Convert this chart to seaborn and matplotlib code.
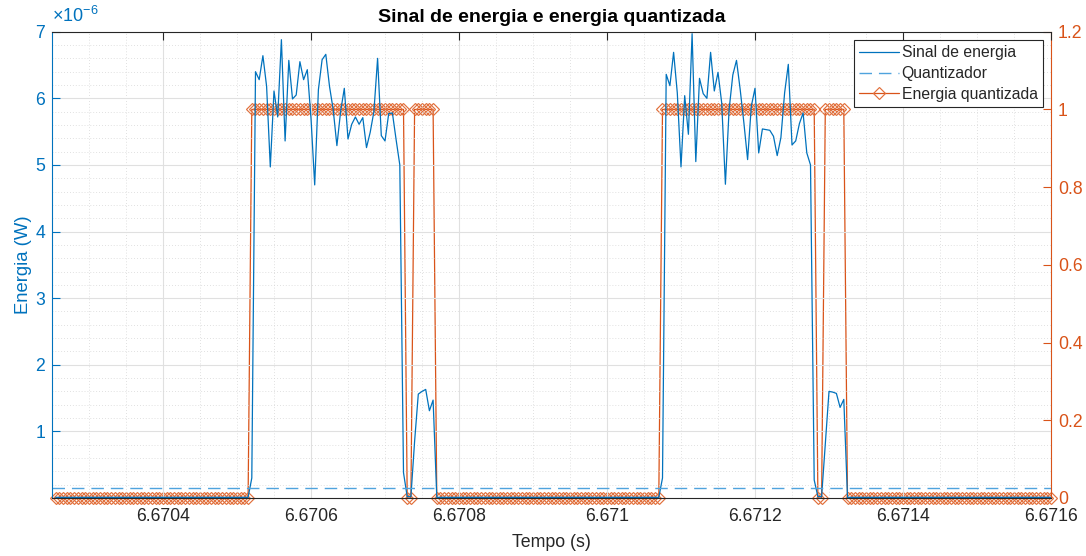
import numpy as np
import pandas as pd
import matplotlib
matplotlib.use("Agg")
import matplotlib.pyplot as plt
from matplotlib.ticker import FixedLocator, MultipleLocator, FuncFormatter
import seaborn as sns

# ---------------- data ----------------
t_start = 6.670255          # s, first sample
dt = 5e-6                   # s, sampling period
n_samples = 270
threshold = 0.15            # x1e-6 W, quantizer level
floor = 0.01                # x1e-6 W, idle energy

pulse1 = [6.40, 6.28, 6.64, 6.18, 4.97, 6.11, 5.72, 6.88, 5.36, 6.57,
          5.99, 6.05, 6.55, 6.28, 6.43, 5.70, 4.70, 6.13, 6.58, 6.66,
          6.18, 5.83, 5.29, 5.80, 6.15, 5.39, 5.61, 5.72, 5.61, 5.71,
          5.26, 5.49, 5.80, 6.60, 5.44, 5.36, 5.77, 5.78, 5.38]
tail1 = [5.00, 0.38, 0.02, 0.02, 0.85]
echo1 = [1.56, 1.60, 1.63, 1.31, 1.47]

pulse2 = [6.36, 6.19, 6.69, 6.08, 4.97, 6.04, 5.46, 6.97, 5.05, 6.30,
          6.07, 6.00, 6.69, 6.11, 6.39, 5.93, 4.71, 5.83, 6.35, 6.57,
          6.13, 5.63, 5.08, 5.88, 6.15, 5.18, 5.54, 5.53, 5.52, 5.43,
          5.14, 5.41, 6.08, 6.51, 5.30, 5.36, 5.62, 5.78, 5.18]
tail2 = [5.00, 0.27, 0.02, 0.02, 0.80]
echo2 = [1.60, 1.59, 1.57, 1.36, 1.48]

onset = [0.30]

energy_uW = ([floor] * 53 + onset + pulse1 + tail1 + echo1 +
             [floor] * 61 + onset + pulse2 + tail2 + echo2 +
             [floor] * 56)

x_ticks = [6.6704, 6.6706, 6.6708, 6.6710, 6.6712, 6.6714, 6.6716]
y_ticks_left = [1, 2, 3, 4, 5, 6, 7]
y_ticks_right = [0, 0.2, 0.4, 0.6, 0.8, 1.0, 1.2]

t = np.round(t_start + dt * np.arange(n_samples), 9)
energy = np.array(energy_uW)
quant = (energy > threshold).astype(int)
df = pd.DataFrame({"t": t, "energia": energy, "quant": quant})

# ---------------- style ----------------
BLUE = "#0072BD"
LBLUE = "#4FA3DD"
ORANGE = "#D95319"
MORANGE = "#E2703C"
DARK = "#262626"

sns.set_style("white")
plt.rcParams["font.family"] = ["Liberation Sans", "DejaVu Sans"]
plt.rcParams["mathtext.fontset"] = "custom"
plt.rcParams["mathtext.rm"] = "Liberation Sans"
plt.rcParams["mathtext.it"] = "Liberation Sans:italic"

W, H = 1086, 556
fig = plt.figure(figsize=(W / 100, H / 100), dpi=100)
ax = fig.add_axes([52 / W, 1 - 498 / H, (1051 - 52) / W, (498 - 31.7) / H])
ax2 = ax.twinx()

sns.lineplot(data=df, x="t", y="quant", ax=ax2, color=ORANGE, linewidth=0.9,
             marker="D", markersize=5.8, markerfacecolor="none",
             markeredgecolor=MORANGE, markeredgewidth=0.85, clip_on=False,
             estimator=None, legend=False)
sns.lineplot(data=df, x="t", y="energia", ax=ax, color=BLUE, linewidth=0.9,
             estimator=None, legend=False)
ax.axhline(threshold, color=LBLUE, linewidth=1.0, dashes=(9, 5))

ax.set_zorder(ax2.get_zorder() + 1)
ax.patch.set_visible(False)

# limits & ticks
ax.set_xlim(6.67025, 6.6716)
ax.set_ylim(0, 7)
ax2.set_ylim(0, 1.2)
ax.xaxis.set_major_locator(FixedLocator(x_ticks))
ax.xaxis.set_major_formatter(FuncFormatter(lambda v, p: "%.6g" % v))
ax.xaxis.set_minor_locator(MultipleLocator(0.00005))
ax.yaxis.set_major_locator(FixedLocator(y_ticks_left))
ax.yaxis.set_minor_locator(MultipleLocator(0.2))
ax2.yaxis.set_major_locator(FixedLocator(y_ticks_right))
ax2.yaxis.set_major_formatter(FuncFormatter(lambda v, p: "%g" % v))

ax.tick_params(axis="x", which="major", direction="in", length=6, width=0.8,
               colors=DARK, top=True, labelsize=12.7, pad=7)
ax.tick_params(axis="x", which="minor", length=0, top=True)
ax.tick_params(axis="y", which="major", direction="in", length=6, width=0.8,
               colors=BLUE, labelsize=12.7, pad=5, right=False)
ax.tick_params(axis="y", which="minor", length=0)
ax2.tick_params(axis="y", which="major", direction="in", length=6, width=0.8,
                colors=ORANGE, labelsize=12.7, pad=5)

# grid
ax.set_axisbelow(True)
ax.grid(which="major", color="#e0e0e0", linewidth=0.8)
ax.grid(which="minor", color="#d6d6d6", linewidth=0.6, linestyle=(0, (1, 2.5)))
ax2.grid(False)

# spines
for s in ["top", "bottom"]:
    ax.spines[s].set_color(DARK)
    ax.spines[s].set_linewidth(0.8)
ax.spines["left"].set_color(BLUE)
ax.spines["left"].set_linewidth(0.8)
ax.spines["right"].set_visible(False)
for s in ["top", "bottom", "left"]:
    ax2.spines[s].set_visible(False)
ax2.spines["right"].set_color(ORANGE)
ax2.spines["right"].set_linewidth(0.8)

# labels
ax.set_title("Sinal de energia e energia quantizada", fontsize=14,
             fontweight="bold", color="black", pad=7)
ax.set_xlabel("Tempo (s)", fontsize=12.8, color=DARK, labelpad=7)
ax.set_ylabel("Energia (W)", fontsize=13.3, color=BLUE, labelpad=2)
ax2.set_ylabel("")
ax.text(0.0, 1.012, r"$\times\mathregular{10^{-6}}$", transform=ax.transAxes,
        color=BLUE, fontsize=13, ha="left", va="bottom")

# legend
h_sig = ax.get_lines()[0]
h_thr = ax.get_lines()[1]
h_q = ax2.get_lines()[0]
leg = ax.legend([h_sig, h_thr, h_q],
                ["Sinal de energia", "Quantizador", "Energia quantizada"],
                loc="upper right", fontsize=11.3, frameon=True, fancybox=False,
                edgecolor=DARK, framealpha=1, borderpad=0.35, labelspacing=0.38,
                handlelength=2.5, handletextpad=0.2, borderaxespad=0.5)
leg.get_frame().set_linewidth(0.8)

fig.savefig("out.png", dpi=100)
